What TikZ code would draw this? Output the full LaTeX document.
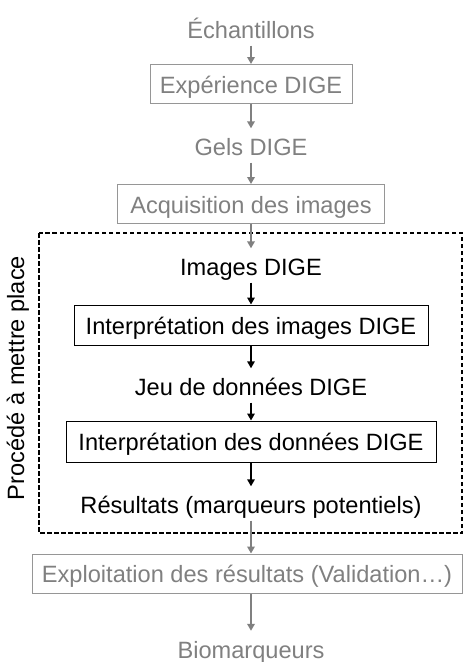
\documentclass[tikz,border=0pt]{standalone}
\usepackage{fontspec}
\setmainfont{Liberation Sans}
\usetikzlibrary{positioning,arrows.meta}
\definecolor{stepgray}{RGB}{128,128,128}
\definecolor{boxgray}{RGB}{150,150,150}

\begin{document}
\begin{tikzpicture}[x=1pt,y=-1pt,>={Triangle[length=7pt,width=7.5pt]},
  font=\fontsize{23.6pt}{28pt}\selectfont,
  lbl/.style={anchor=base,text height=25pt,text depth=5pt,inner ysep=2pt,inner xsep=0pt},
  stepbox/.style={draw,line width=1pt,minimum height=39pt,text height=18pt,text depth=0pt,inner sep=0pt},
  past/.style={text=stepgray,draw=boxgray},
  grayarrow/.style={->,draw=stepgray,line width=2pt},
  blackarrow/.style={->,line width=1.6pt},
  frame/.style={draw,line width=2pt,dash pattern=on 4.5pt off 2.5pt}]
\useasboundingbox (0,0) rectangle (464,662);
% steps before the procedure
\node[lbl,text=stepgray] (ech) at (251,38.5) {Échantillons};
\node[stepbox,past,minimum width=202pt] (exp) at (251,84) {Expérience DIGE};
\node[lbl,text=stepgray] (gels) at (251,155.5) {Gels DIGE};
\node[stepbox,past,minimum width=267pt] (acq) at (251,204) {Acquisition des images};
% procedure
\draw[frame] (39,233) rectangle (462,533);
\node[rotate=90] (proc) at (18,378) {Procédé à mettre place};
\node[lbl] (img) at (251,275.5) {Images DIGE};
\node[stepbox,minimum width=354pt,minimum height=40pt] (int1) at (251,325) {Interprétation des images DIGE};
\node[lbl] (jeu) at (251,395.5) {Jeu de données DIGE};
\node[stepbox,minimum width=370pt,minimum height=41pt] (int2) at (251,441.5) {Interprétation des données DIGE};
\node[lbl] (res) at (251,513.5) {Résultats (marqueurs potentiels)};
% after
\node[stepbox,past,minimum width=430pt] (expl) at (247,573.5) {Exploitation des résultats (Validation…)};
\node[lbl,text=stepgray] (bio) at (251,658) {Biomarqueurs};

\draw[grayarrow] (ech) -- (exp);
\draw[grayarrow] (exp) -- (gels);
\draw[grayarrow] (gels) -- (acq);
\draw[grayarrow] (acq) -- (img);
\draw[blackarrow] (img) -- (int1);
\draw[blackarrow] (int1) -- (jeu);
\draw[blackarrow] (jeu) -- (int2);
\draw[blackarrow] (int2) -- (res);
\draw[grayarrow] (res.south) -- (res.south |- expl.north);
\draw[grayarrow] (expl.south -| bio) -- (bio);
\end{tikzpicture}
\end{document}
